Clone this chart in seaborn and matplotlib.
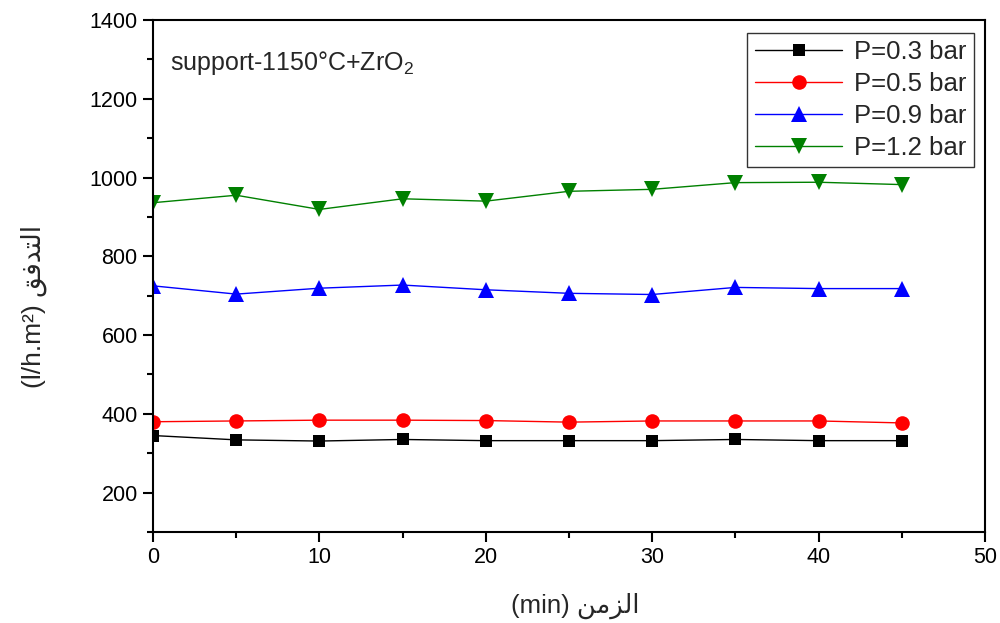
import matplotlib
matplotlib.use("Agg")
import matplotlib.pyplot as plt
from matplotlib.ticker import MultipleLocator
import seaborn as sns
import pandas as pd

# Flux over time at four transmembrane pressures
time_min = [0, 5, 10, 15, 20, 25, 30, 35, 40, 45]
flux_p03 = [345, 334, 331, 335, 332, 332, 332, 335, 332, 332]
flux_p05 = [380, 382, 384, 384, 383, 379, 382, 382, 382, 377]
flux_p09 = [725, 704, 719, 727, 715, 706, 703, 721, 718, 718]
flux_p12 = [936, 955, 919, 946, 940, 965, 970, 987, 988, 982]

series_labels = ["P=0.3 bar", "P=0.5 bar", "P=0.9 bar", "P=1.2 bar"]
series_values = [flux_p03, flux_p05, flux_p09, flux_p12]
series_colors = ["black", "red", "blue", "green"]
series_markers = ["s", "o", "^", "v"]
series_msize = [9, 10.5, 11.5, 11.5]

sns.set_style("ticks")
plt.rcParams["font.family"] = ["Liberation Sans", "DejaVu Sans"]
plt.rcParams["mathtext.fontset"] = "custom"
plt.rcParams["mathtext.rm"] = "Liberation Sans"
plt.rcParams["mathtext.it"] = "Liberation Sans:italic"

fig = plt.figure(figsize=(10, 6.23), dpi=100)
ax = fig.add_axes([0.153, 0.146, 0.832, 0.822])

for lab, vals, col, mk, ms in zip(series_labels, series_values, series_colors,
                                  series_markers, series_msize):
    df = pd.DataFrame({"t": time_min, "flux": vals})
    sns.lineplot(data=df, x="t", y="flux", ax=ax, color=col, marker=mk,
                 markersize=ms, markeredgewidth=0, linewidth=1.0, label=lab)

ax.set_xlim(0, 50)
ax.set_ylim(100, 1400)
ax.xaxis.set_major_locator(MultipleLocator(10))
ax.xaxis.set_minor_locator(MultipleLocator(5))
ax.set_yticks([200, 400, 600, 800, 1000, 1200, 1400])
ax.yaxis.set_minor_locator(MultipleLocator(100))
ax.tick_params(axis="both", which="major", direction="out", length=7, width=1.5,
               labelsize=15.5, color="black", labelcolor="black", pad=4)
ax.tick_params(axis="both", which="minor", direction="out", length=4, width=1.5,
               color="black")
ax.tick_params(top=False, right=False, which="both")
for sp in ax.spines.values():
    sp.set_visible(True)
    sp.set_linewidth(1.5)
    sp.set_color("black")

# Arabic labels written in presentation forms, in visual order
ax.set_xlabel("(min) \ufee6\ufee3\ufeb0\ufedf\ufe8d", fontsize=18.5)
ax.set_ylabel("(l/h.m\u00b2) \ufed6\ufed3\ufeaa\ufe98\ufedf\ufe8d", fontsize=19)
ax.xaxis.set_label_coords(0.507, -0.118)
ax.yaxis.set_label_coords(-0.127, 0.44)

ax.text(0.02, 0.915, "support-1150\u00b0C+ZrO$_2$", transform=ax.transAxes,
        fontsize=18, ha="left", va="center")

leg = ax.legend(loc="upper right", fontsize=18.5, frameon=True, fancybox=False,
                edgecolor="black", handlelength=3.4, borderpad=0.3,
                labelspacing=0.3, handletextpad=0.45, borderaxespad=0.2,
                bbox_to_anchor=(0.993, 0.985))
leg.get_frame().set_linewidth(1.0)

fig.savefig("out.png", dpi=100)
